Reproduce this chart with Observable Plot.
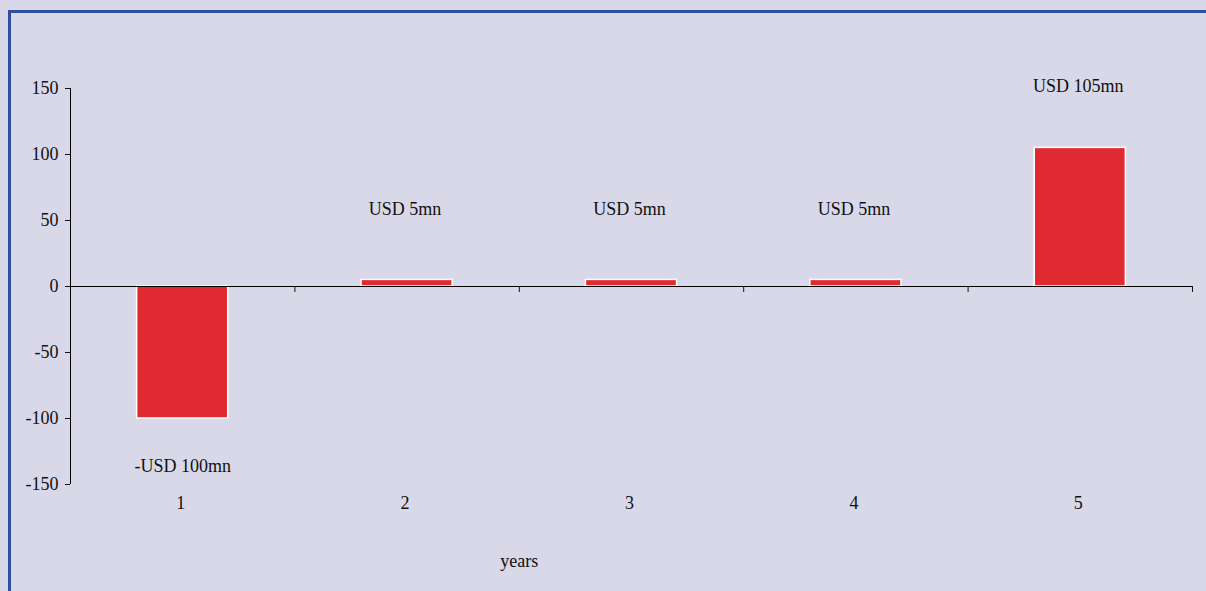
<!DOCTYPE html>
<html>
<head>
<meta charset="utf-8">
<script src="https://cdn.jsdelivr.net/npm/d3@7"></script>
<script src="https://cdn.jsdelivr.net/npm/@observablehq/plot@0.6"></script>
<style>
  html, body { margin: 0; padding: 0; background: #d8d8e8; overflow: hidden; }
  #frame { position: absolute; left: 8px; top: 10px; width: 1300px; height: 700px;
           border-left: 3px solid #2f4e9c; border-top: 3px solid #2f4e9c; box-sizing: border-box; }
  #chart { position: absolute; left: 0; top: 0; }
  #chart svg, #chart svg text { font-family: "Liberation Serif", "Times New Roman", serif !important; }
  #chart svg text { font-size: 18px; fill: #111; }
</style>
</head>
<body>
<div id="frame"></div>
<div id="chart"></div>
<script>
const years = [1, 2, 3, 4, 5];
const cashflow = [-100, 5, 5, 5, 105];
const labels = ["-USD 100mn", "USD 5mn", "USD 5mn", "USD 5mn", "USD 105mn"];
const yTicks = [-150, -100, -50, 0, 50, 100, 150];
const xLabelTicks = [1, 2, 3, 4, 5];
const xBoundaryTicks = [1.5, 2.5, 3.5, 4.5, 5.5];

const data = years.map((y, i) => ({ year: y, value: cashflow[i], label: labels[i] }));
const halfBar = 0.203;
const fmt = d => String(d);

const chart = Plot.plot({
  width: 1206,
  height: 591,
  marginLeft: 70,
  marginRight: 14,
  marginTop: 88,
  marginBottom: 107,
  style: { background: "transparent", fontFamily: "Liberation Serif", fontSize: "18px", color: "#111" },
  x: { type: "linear", domain: [0.5, 5.5] },
  y: { domain: [-150, 150] },
  marks: [
    Plot.rectY(data, {
      x1: d => d.year - halfBar,
      x2: d => d.year + halfBar,
      y1: 0,
      y2: "value",
      fill: "#e02a32",
      stroke: "#ffffff",
      strokeWidth: 1.5
    }),
    Plot.ruleY([0], { stroke: "#000", strokeWidth: 1 }),
    Plot.ruleX([0.5], { y1: -150, y2: 150, stroke: "#000", strokeWidth: 1 }),
    Plot.axisY({ ticks: yTicks, tickSize: 5, tickPadding: 7, tickFormat: fmt, label: null }),
    Plot.axisX({ ticks: xBoundaryTicks, tickFormat: () => "", tickSize: 6, dy: -198, label: null }),
    Plot.axisX({ ticks: xLabelTicks, tickSize: 0, tickPadding: 12, tickFormat: fmt, dx: -2, label: null }),
    Plot.text(data.filter(d => d.value < 0), { x: "year", y: "value", text: "label", dy: 48 }),
    Plot.text(data.filter(d => d.value > 0 && d.value < 50), { x: "year", y: "value", text: "label", dy: -71, dx: -2 }),
    Plot.text(data.filter(d => d.value >= 50), { x: "year", y: "value", text: "label", dy: -62, dx: -2 }),
    Plot.text(["years"], { x: 2.5, frameAnchor: "bottom", dy: 82 })
  ]
});
document.getElementById("chart").appendChild(chart);
</script>
</body>
</html>
